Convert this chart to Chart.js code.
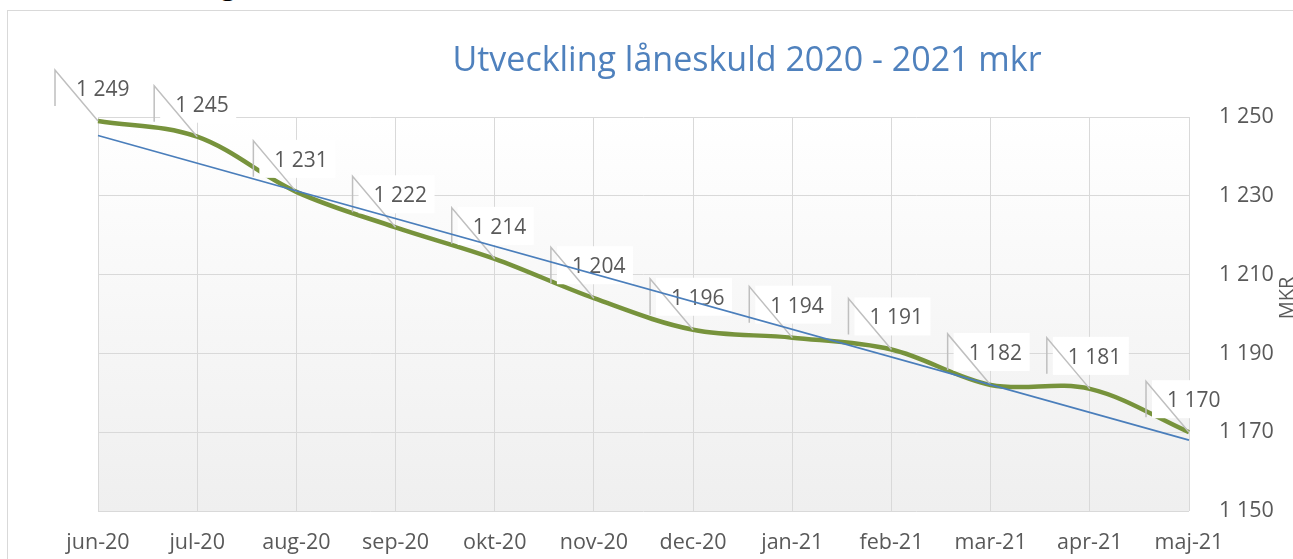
<!DOCTYPE html>
<html>
<head>
<meta charset="utf-8">
<script src="https://cdn.jsdelivr.net/npm/chart.js@4.4.1/dist/chart.umd.min.js"></script>
<style>
  html, body { margin: 0; padding: 0; background: #fff; overflow: hidden; }
  #wrap { position: relative; width: 1293px; height: 559px; overflow: hidden; }
  #frame { position: absolute; left: 7px; top: 10px; width: 1400px; height: 700px; border: 1px solid #d9d9d9; box-sizing: border-box; }
  #cut { position: absolute; left: 221px; top: -28px; font: bold 26px "Open Sans"; line-height: 26px; color: #000; }
  canvas { position: absolute; left: 0; top: 0; }
</style>
</head>
<body>
<div id="wrap">
  <div id="frame"></div>
  <div id="cut">g</div>
  <canvas id="chart" width="1293" height="559"></canvas>
</div>
<script>
// månader och lånesskuld (mkr)
const months = ['jun-20', 'jul-20', 'aug-20', 'sep-20', 'okt-20', 'nov-20', 'dec-20', 'jan-21', 'feb-21', 'mar-21', 'apr-21', 'maj-21'];
const debt = [1249, 1245, 1231, 1222, 1214, 1204, 1196, 1194, 1191, 1182, 1181, 1170];
// linjär trendlinje, ändpunkter
const trend = [1245.3, null, null, null, null, null, null, null, null, null, null, 1168.0];
const yTicks = [1150, 1170, 1190, 1210, 1230, 1250];

const titleText = 'Utveckling låneskuld 2020 - 2021 mkr';
const axisTitle = 'MKR';
const grey = '#595959';
const font = '"Open Sans", sans-serif';

const fmt = v => String(Math.round(v)).replace(/\B(?=(\d{3})+(?!\d))/g, ' ');

// bakgrund med gradient + rubrik + axeltitel
const decor = {
  id: 'decor',
  beforeDraw(chart) {
    const { ctx, chartArea: a } = chart;
    const g = ctx.createLinearGradient(0, a.top, 0, a.bottom);
    g.addColorStop(0, '#ffffff');
    g.addColorStop(1, '#efefef');
    ctx.save();
    ctx.fillStyle = g;
    ctx.fillRect(a.left, a.top, a.right - a.left, a.bottom - a.top);
    ctx.fillStyle = '#4f81bd';
    ctx.font = '34px ' + font;
    ctx.textAlign = 'center';
    ctx.textBaseline = 'middle';
    ctx.fillText(titleText, 747, 61);
    ctx.translate(1287, 298);
    ctx.rotate(-Math.PI / 2);
    ctx.fillStyle = grey;
    ctx.font = '20px ' + font;
    ctx.fillText(axisTitle, 0, 0);
    ctx.restore();
  }
};

// dataetiketter med pratbubbla-linjer
const callouts = {
  id: 'callouts',
  afterDatasetDraw(chart, args) {
    if (args.index !== 0) return;
    const ctx = chart.ctx;
    ctx.save();
    args.meta.data.forEach((p, i) => {
      const x = p.x, y = p.y;
      ctx.fillStyle = '#ffffff';
      ctx.fillRect(x - 37, y - 52, 76, 38);
      ctx.strokeStyle = '#bfbfbf';
      ctx.lineWidth = 1.5;
      ctx.beginPath();
      ctx.moveTo(x - 43, y - 15);
      ctx.lineTo(x - 43, y - 51);
      ctx.lineTo(x, y);
      ctx.stroke();
      ctx.fillStyle = grey;
      ctx.font = '21px ' + font;
      ctx.textAlign = 'left';
      ctx.textBaseline = 'middle';
      ctx.fillText(fmt(debt[i]), x - 22, y - 31);
    });
    ctx.restore();
  }
};

new Chart(document.getElementById('chart').getContext('2d'), {
  type: 'line',
  data: {
    labels: months,
    datasets: [{
      label: 'Låneskuld',
      data: debt,
      borderColor: '#77933c',
      borderWidth: 4.5,
      tension: 0.35,
      pointRadius: 0,
      order: 1
    }, {
      label: 'Linjär trend',
      data: trend,
      borderColor: '#4a7ebb',
      borderWidth: 1.75,
      spanGaps: true,
      pointRadius: 0,
      order: 0
    }]
  },
  options: {
    responsive: false,
    animation: false,
    layout: { padding: { left: 98, top: 117, right: 0, bottom: 4 } },
    plugins: {
      legend: { display: false },
      tooltip: { enabled: false },
      title: { display: false }
    },
    scales: {
      x: {
        grid: { color: '#d9d9d9', lineWidth: 1, drawTicks: false },
        border: { display: false },
        ticks: { color: grey, font: { family: font, size: 21.5 }, padding: 19, maxRotation: 0, autoSkip: false },
        afterFit: s => { s.height = 44; }
      },
      y: {
        position: 'right',
        min: 1150,
        max: 1250,
        afterBuildTicks: s => { s.ticks = yTicks.map(v => ({ value: v })); },
        grid: { color: '#d9d9d9', lineWidth: 1, drawTicks: false },
        border: { display: false },
        ticks: { color: grey, font: { family: font, size: 21.5 }, padding: 30, callback: v => fmt(v) },
        afterFit: s => { s.width = 104; }
      }
    }
  },
  plugins: [decor, callouts]
});
</script>
</body>
</html>
